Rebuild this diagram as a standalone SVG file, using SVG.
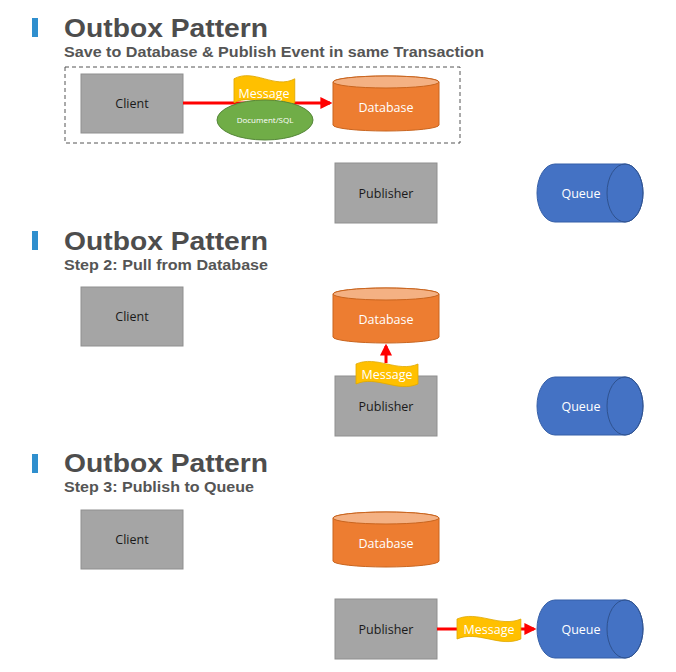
<svg xmlns="http://www.w3.org/2000/svg" xmlns:xlink="http://www.w3.org/1999/xlink" width="676" height="672" viewBox="0 0 676 672">
<style>
.bar{fill:#2f8fce}
.title{font-family:"Liberation Sans","Open Sans",sans-serif;font-weight:700;font-size:26px;fill:#4d4d4d}
.sub{font-family:"Liberation Sans","Open Sans",sans-serif;font-weight:700;font-size:14.5px;fill:#555555}
.box{fill:#a5a5a5;stroke:#8f8f8f;stroke-width:1}
.lbl{font-family:"Open Sans","Liberation Sans",sans-serif;font-size:12.5px;fill:#1a1a1a;text-anchor:middle}
.wl{font-family:"Open Sans","Liberation Sans",sans-serif;font-size:12.5px;fill:#ffffff;text-anchor:middle}
.dbb{fill:#ed7d31;stroke:#c9651f;stroke-width:1}
.dbt{fill:#f4b183;stroke:#c9651f;stroke-width:1}
.q{fill:#4472c4;stroke:#355fa8;stroke-width:1}
.qe{fill:none;stroke:#2f528f;stroke-width:1}
.msg{fill:#ffc000;stroke:#e0a800;stroke-width:0.8}
.arr{stroke:#ff0000;stroke-width:3;fill:none}
</style>
<defs>
<marker id="ah" markerWidth="4" markerHeight="4" refX="3.2" refY="2" orient="auto" markerUnits="strokeWidth">
<path d="M0,0 L4,2 L0,4 Z" fill="#ff0000"/>
</marker>
<path id="wave" d="M0,4 C20,-5 42,13 62,4 L62,24 C42,33 20,15 0,24 Z"/>
</defs>

<!-- Section 1 -->
<g id="heading1">
<rect class="bar" x="32" y="18" width="6" height="19"/>
<text class="title" x="64" y="37" textLength="204" lengthAdjust="spacingAndGlyphs">Outbox Pattern</text>
<text class="sub" x="64" y="57" textLength="420" lengthAdjust="spacingAndGlyphs">Save to Database &amp; Publish Event in same Transaction</text>
</g>
<g id="transaction">
<rect x="65" y="67" width="395" height="76" fill="none" stroke="#555555" stroke-width="1" stroke-dasharray="4,3"/>
</g>
<g id="client1">
<rect class="box" x="81" y="74" width="102" height="59"/>
<text class="lbl" x="132" y="108">Client</text>
</g>
<g id="connectors1">
<line class="arr" x1="183" y1="103" x2="330" y2="103" marker-end="url(#ah)"/>
</g>
<g id="message1">
<use xlink:href="#wave" class="msg" transform="translate(234,74) scale(0.98,1.2)"/>
<text class="wl" x="264" y="98">Message</text>
</g>
<g id="document1">
<ellipse cx="265" cy="120" rx="48" ry="20" fill="#70ad47" stroke="#56873a" stroke-width="1"/>
<text x="265" y="123" font-family="'Open Sans','Liberation Sans',sans-serif" font-size="8" fill="#ffffff" text-anchor="middle">Document/SQL</text>
</g>
<g id="database1">
<path class="dbb" d="M333,82 A53,6 0 0 1 439,82 V125 A53,6 0 0 1 333,125 Z"/>
<ellipse class="dbt" cx="386" cy="82" rx="53" ry="6"/>
<text class="wl" x="386" y="112">Database</text>
</g>
<g id="publisher1">
<rect class="box" x="335" y="163" width="102" height="60"/>
<text class="lbl" x="386" y="198">Publisher</text>
</g>
<g id="queue1">
<path class="q" d="M555,164 H625 A18,29 0 0 1 625,222 H555 A18,29 0 0 1 555,164 Z"/>
<ellipse class="qe" cx="625" cy="193" rx="18" ry="29"/>
<text class="wl" x="581" y="198">Queue</text>
</g>

<!-- Section 2 -->
<g id="heading2">
<rect class="bar" x="32" y="231" width="6" height="19"/>
<text class="title" x="64" y="250" textLength="204" lengthAdjust="spacingAndGlyphs">Outbox Pattern</text>
<text class="sub" x="64" y="270" textLength="204" lengthAdjust="spacingAndGlyphs">Step 2: Pull from Database</text>
</g>
<g id="client2">
<rect class="box" x="81" y="287" width="102" height="59"/>
<text class="lbl" x="132" y="321">Client</text>
</g>
<g id="database2">
<path class="dbb" d="M333,294 A53,6 0 0 1 439,294 V337 A53,6 0 0 1 333,337 Z"/>
<ellipse class="dbt" cx="386" cy="294" rx="53" ry="6"/>
<text class="wl" x="386" y="324">Database</text>
</g>
<g id="publisher2">
<rect class="box" x="335" y="376" width="102" height="60"/>
<text class="lbl" x="386" y="411">Publisher</text>
</g>
<g id="connectors2">
<line class="arr" x1="386" y1="363" x2="386" y2="346" marker-end="url(#ah)"/>
</g>
<g id="message2">
<use xlink:href="#wave" class="msg" transform="translate(356,360)"/>
<text class="wl" x="387" y="379">Message</text>
</g>
<g id="queue2">
<path class="q" d="M555,377 H625 A18,29 0 0 1 625,435 H555 A18,29 0 0 1 555,377 Z"/>
<ellipse class="qe" cx="625" cy="406" rx="18" ry="29"/>
<text class="wl" x="581" y="411">Queue</text>
</g>

<!-- Section 3 -->
<g id="heading3">
<rect class="bar" x="32" y="454" width="6" height="19"/>
<text class="title" x="64" y="472" textLength="204" lengthAdjust="spacingAndGlyphs">Outbox Pattern</text>
<text class="sub" x="64" y="492" textLength="190" lengthAdjust="spacingAndGlyphs">Step 3: Publish to Queue</text>
</g>
<g id="client3">
<rect class="box" x="81" y="510" width="102" height="59"/>
<text class="lbl" x="132" y="544">Client</text>
</g>
<g id="database3">
<path class="dbb" d="M333,518 A53,6 0 0 1 439,518 V561 A53,6 0 0 1 333,561 Z"/>
<ellipse class="dbt" cx="386" cy="518" rx="53" ry="6"/>
<text class="wl" x="386" y="548">Database</text>
</g>
<g id="publisher3">
<rect class="box" x="335" y="599" width="102" height="60"/>
<text class="lbl" x="386" y="634">Publisher</text>
</g>
<g id="connectors3">
<line class="arr" x1="437" y1="629" x2="534" y2="629" marker-end="url(#ah)"/>
</g>
<g id="message3">
<use xlink:href="#wave" class="msg" transform="translate(457,615) scale(1.03,1)"/>
<text class="wl" x="489" y="634">Message</text>
</g>
<g id="queue3">
<path class="q" d="M555,600 H625 A18,29 0 0 1 625,658 H555 A18,29 0 0 1 555,600 Z"/>
<ellipse class="qe" cx="625" cy="629" rx="18" ry="29"/>
<text class="wl" x="581" y="634">Queue</text>
</g>
</svg>
